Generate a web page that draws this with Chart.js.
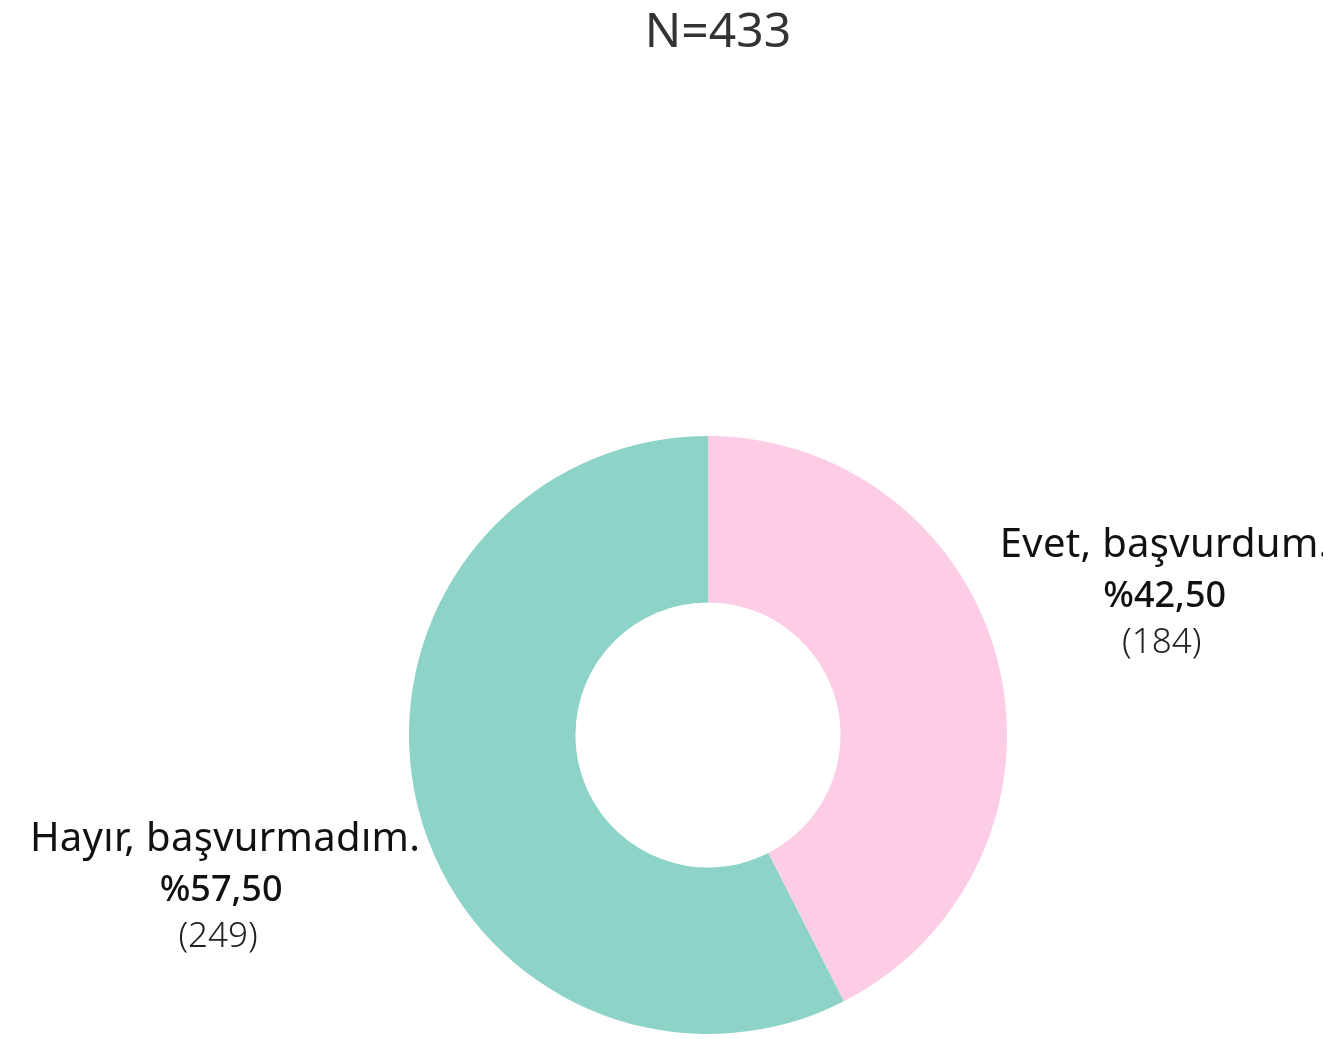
<!DOCTYPE html>
<html>
<head>
<meta charset="utf-8">
<script src="https://cdn.jsdelivr.net/npm/chart.js@4.4.0/dist/chart.umd.min.js"></script>
<style>
html,body{margin:0;padding:0;background:#fff;}
#wrap{position:relative;width:1323px;height:1039px;}
</style>
</head>
<body>
<div id="wrap"><canvas id="c" width="1323" height="1039"></canvas></div>
<script>
const titleText = "N=433";
const categories = ["Evet, başvurdum.", "Hayır, başvurmadım."];
const counts = [184, 249];
const percentLabels = ["%42,50", "%57,50"];
const colors = ["#fccde5", "#8dd3c7"];

const labelPlugin = {
  id: 'labelPlugin',
  afterDraw(chart) {
    const ctx = chart.ctx;
    ctx.save();
    // title
    ctx.fillStyle = '#333333';
    ctx.font = '48px "Noto Sans"';
    ctx.textAlign = 'center';
    ctx.textBaseline = 'alphabetic';
    ctx.fillText(titleText, 718, 47);

    const meta = chart.getDatasetMeta(0);
    meta.data.forEach((arc, i) => {
      const p = arc.getProps(['x','y','startAngle','endAngle','outerRadius'], true);
      const mid = (p.startAngle + p.endAngle) / 2;
      const R = p.outerRadius;
      const cosA = Math.cos(mid), sinA = Math.sin(mid);
      const edgeX = p.x + R * cosA;
      const yc = p.y + sinA * R * 2.1 + 4;
      const right = cosA >= 0;
      ctx.font = '40px "Noto Sans"';
      if ('letterSpacing' in ctx) ctx.letterSpacing = '0.3px';
      const w1 = ctx.measureText(categories[i]).width;
      const cx = right ? edgeX + 1 + w1 / 2 : edgeX + 3 - w1 / 2;
      ctx.textAlign = 'center';
      ctx.fillStyle = '#111111';
      ctx.fillText(categories[i], cx, yc - 35);
      if ('letterSpacing' in ctx) ctx.letterSpacing = '0px';
      ctx.font = '500 36px "Noto Sans"';
      ctx.fillStyle = '#111111';
      ctx.fillText(percentLabels[i], right ? cx : cx - 4, yc + 15);
      ctx.font = '300 35px "Noto Sans"';
      ctx.fillStyle = '#222222';
      ctx.fillText('(' + counts[i] + ')', right ? cx - 3 : cx - 7, yc + 61);
    });
    ctx.restore();
  }
};

new Chart(document.getElementById('c'), {
  type: 'doughnut',
  data: {
    labels: categories,
    datasets: [{
      data: counts,
      backgroundColor: colors,
      borderWidth: 0,
      hoverOffset: 0
    }]
  },
  options: {
    responsive: false,
    animation: false,
    radius: 299,
    cutout: 133,
    layout: { padding: { top: 435, bottom: 4, left: 408, right: 315 } },
    plugins: {
      legend: { display: false },
      tooltip: { enabled: false },
      title: { display: false }
    },
    events: []
  },
  plugins: [labelPlugin]
});
</script>
</body>
</html>
